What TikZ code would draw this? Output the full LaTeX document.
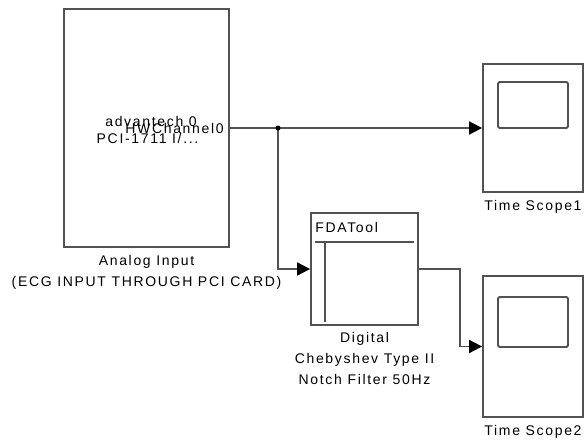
\documentclass[tikz,border=0pt]{standalone}
\usepackage{fontspec}
\newfontfamily\blkfont[LetterSpace=12]{Liberation Sans}
\usepackage{tikz}
\usetikzlibrary{arrows.meta,positioning}

\begin{document}
\begin{tikzpicture}[x=1pt,y=-1pt,
		blk/.style={draw=wire,line width=1.8pt,fill=white,inner sep=0pt},
		screen/.style={draw=wire,line width=1.8pt,rounded corners=1.5pt,inner sep=0pt},
		sig/.style={draw=wire,line width=1.8pt,-{Triangle[length=13pt,width=13pt,color=black]}},
		caption/.style={font=\blkfont\fontsize{14}{21}\selectfont,align=center,inner sep=0pt}]
	\colorlet{wire}{black!68}
	\useasboundingbox (0,0) rectangle (585,441);
	
	% blocks
	\node[blk,minimum width=165pt,minimum height=238pt] (adc) at (146.5,128) {};
	\node[blk,minimum width=107pt,minimum height=112pt] (fda) at (364.5,269) {};
	\node[blk,minimum width=100pt,minimum height=128pt] (scopeA) at (533,128) {};
	\node[blk,minimum width=100pt,minimum height=141pt] (scopeB) at (533,346.5) {};
	
	% scope screens
	\node[screen,minimum width=70pt,minimum height=46pt] (screenA) at (533,105) {};
	\node[screen,minimum width=70pt,minimum height=50pt] (screenB) at (533,322) {};
	
	% text inside the input block
	\node[caption] (adcA) at (151,121) {advantech 0};
	\node[caption] (adcB) at (147.5,138) {PCI-1711 I/...};
	\node[caption,anchor=east,xshift=-6pt] (adcC) at (adc.east) {HWChannel0};
	
	% filter icon
	\node[caption,anchor=north west,xshift=5pt,yshift=-10pt] (fdaname) at (fda.north west) {FDATool};
	\draw[wire,line width=1.8pt] ([xshift=5pt,yshift=-30pt]fda.north west) -- ([xshift=-5pt,yshift=-30pt]fda.north east);
	\draw[wire,line width=1.8pt] ([xshift=15pt,yshift=-30pt]fda.north west) -- ([xshift=15pt,yshift=4pt]fda.south west);
	
	% labels
	\node[caption,below=7pt of adc] (adclabel) {Analog Input\\(ECG INPUT THROUGH PCI CARD)};
	\node[caption,below=6pt of fda] (fdalabel) {Digital\\Chebyshev Type II\\Notch Filter 50Hz};
	\node[caption,below=7pt of scopeA] (scopeAlabel) {Time Scope1};
	\node[caption,below=7pt of scopeB] (scopeBlabel) {Time Scope2};
	
	% signal lines
	\coordinate (split) at (278,128);
	\coordinate (bend) at (460,269);
	\draw[sig] (adc.east) -- (scopeA.west);
	\draw[sig] (split) |- (fda.west);
	\draw[sig] (fda.east) -- (bend) |- (scopeB.west);
	\fill (split) circle (2.5pt);
\end{tikzpicture}
\end{document}
